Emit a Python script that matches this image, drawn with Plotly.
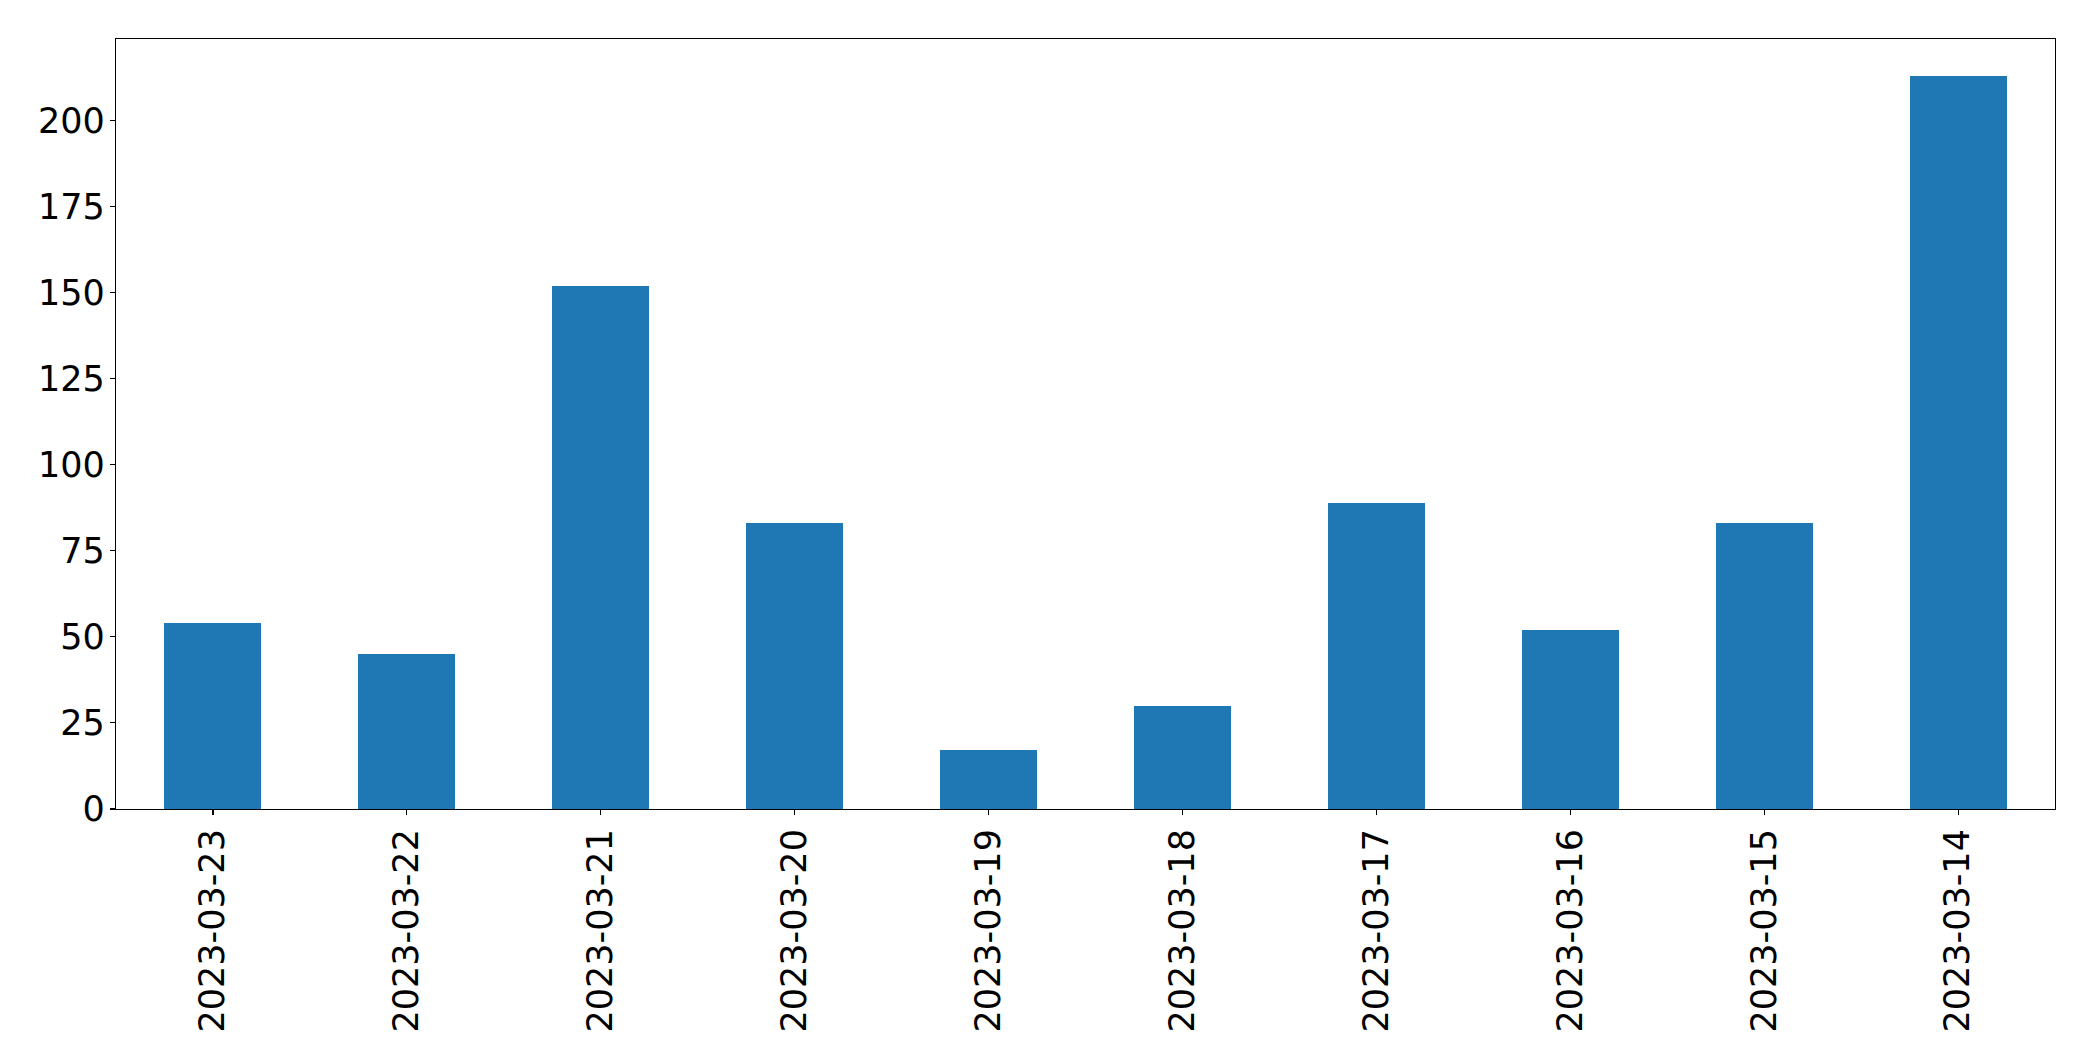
import plotly.graph_objects as go

dates = ["2023-03-23", "2023-03-22", "2023-03-21", "2023-03-20", "2023-03-19",
         "2023-03-18", "2023-03-17", "2023-03-16", "2023-03-15", "2023-03-14"]
counts = [54, 45, 152, 83, 17, 30, 89, 52, 83, 213]
y_ticks = [0, 25, 50, 75, 100, 125, 150, 175, 200]

fig = go.Figure()
fig.add_trace(go.Bar(x=dates, y=counts, width=0.5, marker=dict(color="#1f77b4", line=dict(width=0)),
                     hoverinfo="skip"))

font = dict(family="DejaVu Sans", size=35, color="black")
fig.update_layout(
    width=2093, height=1061,
    margin=dict(l=116, r=38, t=39, b=252, pad=0),
    plot_bgcolor="white", paper_bgcolor="white",
    showlegend=False, font=font, bargap=0,
)
fig.update_xaxes(
    type="category", range=[-0.5, len(dates) - 0.5], automargin=False,
    tickangle=-90, ticks="outside", ticklen=5, tickwidth=1.1, tickcolor="black",
    showline=True, linecolor="black", linewidth=1.1, mirror=True,
    showgrid=False, zeroline=False, tickfont=font,
)
fig.update_yaxes(
    range=[0, max(counts) * 1.05], tickvals=y_ticks, automargin=False,
    ticks="outside", ticklen=5, tickwidth=1.1, tickcolor="black",
    showline=True, linecolor="black", linewidth=1.1, mirror=True,
    showgrid=False, zeroline=False, tickfont=font, ticklabelstandoff=-2,
)
fig.write_html(
    "out.html",
    config={"displayModeBar": False, "staticPlot": True},
    post_script="document.body.style.margin='0';document.body.style.overflow='hidden';",
)
